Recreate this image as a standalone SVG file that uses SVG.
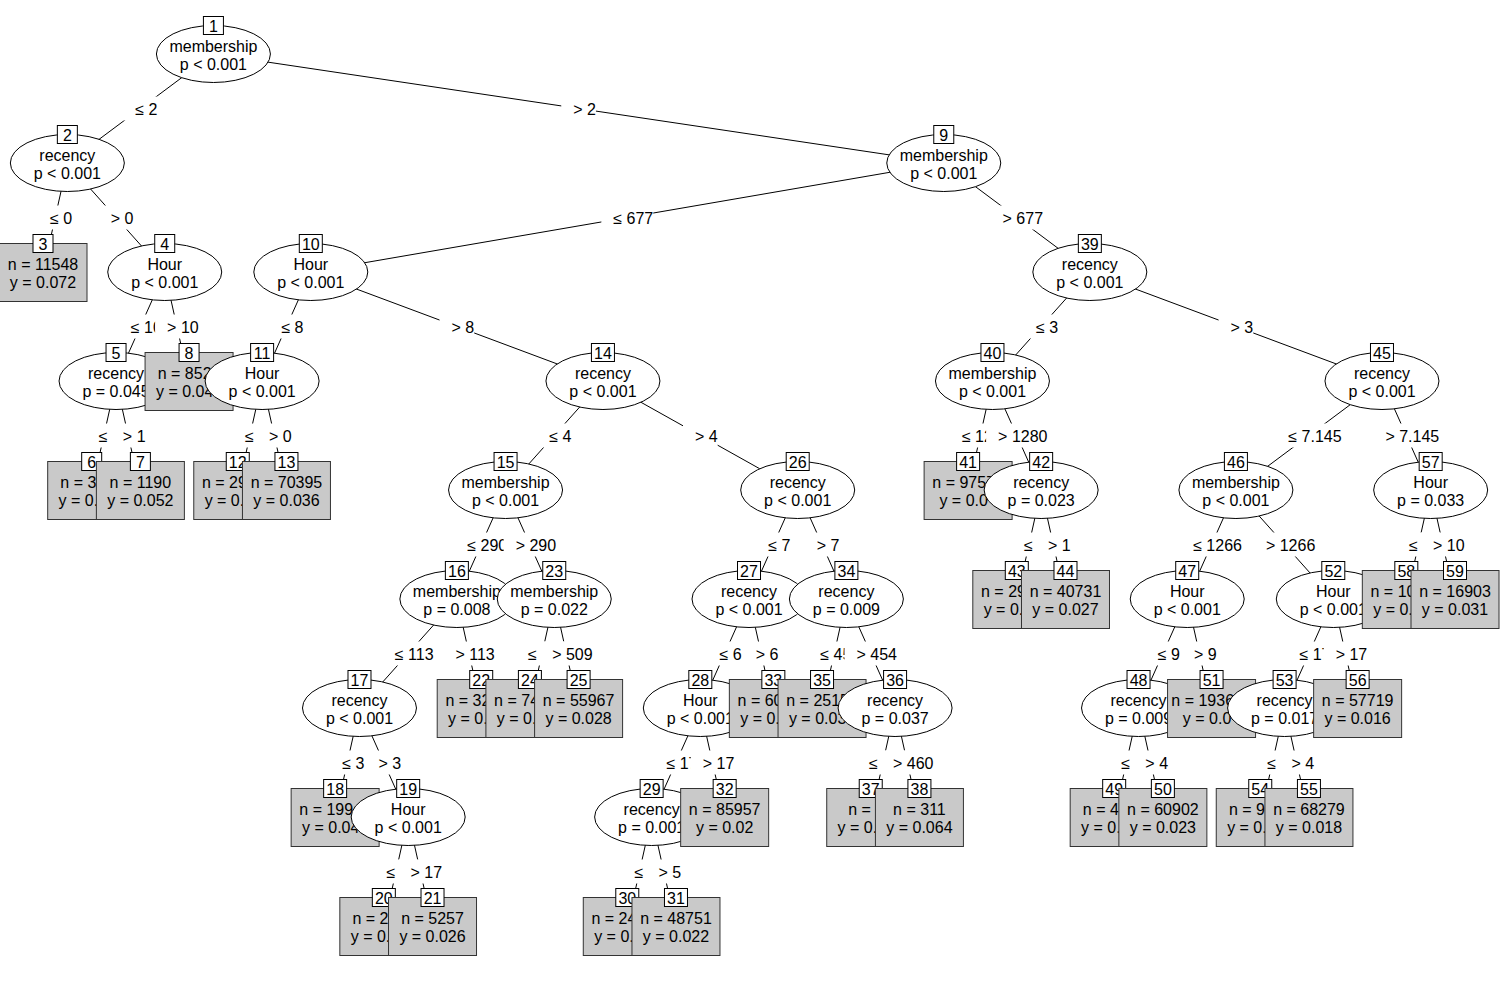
<svg xmlns="http://www.w3.org/2000/svg" width="1500" height="1000" viewBox="0 0 1500 1000">
<style>
text{font-family:"Liberation Sans",Arial,Helvetica,sans-serif;font-size:16px;fill:#000;text-anchor:middle}
.st{text-anchor:start}
.e{fill:#fff;stroke:#000;stroke-width:1}
.lf{fill:#c9c9c9;stroke:#333;stroke-width:1}
.id{fill:#fff;stroke:#000;stroke-width:1}
.ln line{stroke:#000;stroke-width:1}
.lb{fill:#fff;stroke:none}
</style>
<rect width="1500" height="1000" fill="#fff"/>
<g id="connectors">
<g class="ln">
<line x1="213.42" y1="54" x2="67.35" y2="163"/>
<line x1="213.42" y1="54" x2="943.77" y2="163"/>
<line x1="67.35" y1="163" x2="43" y2="272"/>
<line x1="67.35" y1="163" x2="164.73" y2="272"/>
<line x1="164.73" y1="272" x2="116.04" y2="381"/>
<line x1="164.73" y1="272" x2="189.07" y2="381"/>
<line x1="116.04" y1="381" x2="91.69" y2="490"/>
<line x1="116.04" y1="381" x2="140.38" y2="490"/>
<line x1="943.77" y1="163" x2="310.80" y2="272"/>
<line x1="943.77" y1="163" x2="1089.84" y2="272"/>
<line x1="310.80" y1="272" x2="262.11" y2="381"/>
<line x1="310.80" y1="272" x2="602.94" y2="381"/>
<line x1="262.11" y1="381" x2="237.76" y2="490"/>
<line x1="262.11" y1="381" x2="286.45" y2="490"/>
<line x1="602.94" y1="381" x2="505.56" y2="490"/>
<line x1="602.94" y1="381" x2="797.70" y2="490"/>
<line x1="505.56" y1="490" x2="456.87" y2="599"/>
<line x1="505.56" y1="490" x2="554.25" y2="599"/>
<line x1="456.87" y1="599" x2="359.49" y2="708"/>
<line x1="456.87" y1="599" x2="481.21" y2="708"/>
<line x1="359.49" y1="708" x2="335.14" y2="817"/>
<line x1="359.49" y1="708" x2="408.18" y2="817"/>
<line x1="408.18" y1="817" x2="383.83" y2="926"/>
<line x1="408.18" y1="817" x2="432.52" y2="926"/>
<line x1="554.25" y1="599" x2="529.90" y2="708"/>
<line x1="554.25" y1="599" x2="578.59" y2="708"/>
<line x1="797.70" y1="490" x2="749.01" y2="599"/>
<line x1="797.70" y1="490" x2="846.39" y2="599"/>
<line x1="749.01" y1="599" x2="700.32" y2="708"/>
<line x1="749.01" y1="599" x2="773.35" y2="708"/>
<line x1="700.32" y1="708" x2="651.63" y2="817"/>
<line x1="700.32" y1="708" x2="724.66" y2="817"/>
<line x1="651.63" y1="817" x2="627.28" y2="926"/>
<line x1="651.63" y1="817" x2="675.97" y2="926"/>
<line x1="846.39" y1="599" x2="822.04" y2="708"/>
<line x1="846.39" y1="599" x2="895.08" y2="708"/>
<line x1="895.08" y1="708" x2="870.73" y2="817"/>
<line x1="895.08" y1="708" x2="919.42" y2="817"/>
<line x1="1089.84" y1="272" x2="992.46" y2="381"/>
<line x1="1089.84" y1="272" x2="1381.98" y2="381"/>
<line x1="992.46" y1="381" x2="968.11" y2="490"/>
<line x1="992.46" y1="381" x2="1041.15" y2="490"/>
<line x1="1041.15" y1="490" x2="1016.80" y2="599"/>
<line x1="1041.15" y1="490" x2="1065.49" y2="599"/>
<line x1="1381.98" y1="381" x2="1235.91" y2="490"/>
<line x1="1381.98" y1="381" x2="1430.67" y2="490"/>
<line x1="1235.91" y1="490" x2="1187.22" y2="599"/>
<line x1="1235.91" y1="490" x2="1333.29" y2="599"/>
<line x1="1187.22" y1="599" x2="1138.53" y2="708"/>
<line x1="1187.22" y1="599" x2="1211.56" y2="708"/>
<line x1="1138.53" y1="708" x2="1114.18" y2="817"/>
<line x1="1138.53" y1="708" x2="1162.87" y2="817"/>
<line x1="1333.29" y1="599" x2="1284.60" y2="708"/>
<line x1="1333.29" y1="599" x2="1357.63" y2="708"/>
<line x1="1284.60" y1="708" x2="1260.25" y2="817"/>
<line x1="1284.60" y1="708" x2="1308.94" y2="817"/>
<line x1="1430.67" y1="490" x2="1406.32" y2="599"/>
<line x1="1430.67" y1="490" x2="1455.01" y2="599"/>
</g>
<g id="edge-labels">
<rect class="lb" x="123.33" y="96.5" width="34.1" height="24"/><text x="146.39" y="114.5">≤ 2</text>
<rect class="lb" x="561.25" y="96.5" width="34.7" height="24"/><text x="584.6" y="114.5">&gt; 2</text>
<rect class="lb" x="38.13" y="205.5" width="34.1" height="24"/><text x="61.18" y="223.5">≤ 0</text>
<rect class="lb" x="98.69" y="205.5" width="34.7" height="24"/><text x="122.04" y="223.5">&gt; 0</text>
<rect class="lb" x="118.89" y="314.5" width="43" height="24"/><text x="146.39" y="332.5">≤ 10</text>
<rect class="lb" x="155.1" y="314.5" width="43.6" height="24"/><text x="182.9" y="332.5">&gt; 10</text>
<rect class="lb" x="86.82" y="423.5" width="34.1" height="24"/><text x="109.87" y="441.5">≤ 1</text>
<rect class="lb" x="110.86" y="423.5" width="34.7" height="24"/><text x="134.21" y="441.5">&gt; 1</text>
<rect class="lb" x="601.34" y="205.5" width="51.9" height="24"/><text x="633.29" y="223.5">≤ 677</text>
<rect class="lb" x="990.56" y="205.5" width="52.5" height="24"/><text x="1022.81" y="223.5">&gt; 677</text>
<rect class="lb" x="269.41" y="314.5" width="34.1" height="24"/><text x="292.46" y="332.5">≤ 8</text>
<rect class="lb" x="439.52" y="314.5" width="34.7" height="24"/><text x="462.87" y="332.5">&gt; 8</text>
<rect class="lb" x="232.89" y="423.5" width="34.1" height="24"/><text x="255.94" y="441.5">≤ 0</text>
<rect class="lb" x="256.93" y="423.5" width="34.7" height="24"/><text x="280.28" y="441.5">&gt; 0</text>
<rect class="lb" x="537.2" y="423.5" width="34.1" height="24"/><text x="560.25" y="441.5">≤ 4</text>
<rect class="lb" x="682.97" y="423.5" width="34.7" height="24"/><text x="706.32" y="441.5">&gt; 4</text>
<rect class="lb" x="455.27" y="532.5" width="51.9" height="24"/><text x="487.22" y="550.5">≤ 290</text>
<rect class="lb" x="503.66" y="532.5" width="52.5" height="24"/><text x="535.91" y="550.5">&gt; 290</text>
<rect class="lb" x="382.23" y="641.5" width="51.9" height="24"/><text x="414.18" y="659.5">≤ 113</text>
<rect class="lb" x="442.79" y="641.5" width="52.5" height="24"/><text x="475.04" y="659.5">&gt; 113</text>
<rect class="lb" x="330.27" y="750.5" width="34.1" height="24"/><text x="353.32" y="768.5">≤ 3</text>
<rect class="lb" x="366.49" y="750.5" width="34.7" height="24"/><text x="389.84" y="768.5">&gt; 3</text>
<rect class="lb" x="374.51" y="859.5" width="43" height="24"/><text x="402.01" y="877.5">≤ 17</text>
<rect class="lb" x="398.55" y="859.5" width="43.6" height="24"/><text x="426.35" y="877.5">&gt; 17</text>
<rect class="lb" x="516.13" y="641.5" width="51.9" height="24"/><text x="548.08" y="659.5">≤ 509</text>
<rect class="lb" x="540.17" y="641.5" width="52.5" height="24"/><text x="572.42" y="659.5">&gt; 509</text>
<rect class="lb" x="756.31" y="532.5" width="34.1" height="24"/><text x="779.36" y="550.5">≤ 7</text>
<rect class="lb" x="804.7" y="532.5" width="34.7" height="24"/><text x="828.05" y="550.5">&gt; 7</text>
<rect class="lb" x="707.62" y="641.5" width="34.1" height="24"/><text x="730.67" y="659.5">≤ 6</text>
<rect class="lb" x="743.83" y="641.5" width="34.7" height="24"/><text x="767.18" y="659.5">&gt; 6</text>
<rect class="lb" x="654.48" y="750.5" width="43" height="24"/><text x="681.98" y="768.5">≤ 17</text>
<rect class="lb" x="690.69" y="750.5" width="43.6" height="24"/><text x="718.49" y="768.5">&gt; 17</text>
<rect class="lb" x="622.41" y="859.5" width="34.1" height="24"/><text x="645.46" y="877.5">≤ 5</text>
<rect class="lb" x="646.45" y="859.5" width="34.7" height="24"/><text x="669.8" y="877.5">&gt; 5</text>
<rect class="lb" x="808.27" y="641.5" width="51.9" height="24"/><text x="840.22" y="659.5">≤ 454</text>
<rect class="lb" x="844.49" y="641.5" width="52.5" height="24"/><text x="876.74" y="659.5">&gt; 454</text>
<rect class="lb" x="856.96" y="750.5" width="51.9" height="24"/><text x="888.91" y="768.5">≤ 460</text>
<rect class="lb" x="881" y="750.5" width="52.5" height="24"/><text x="913.25" y="768.5">&gt; 460</text>
<rect class="lb" x="1024.1" y="314.5" width="34.1" height="24"/><text x="1047.15" y="332.5">≤ 3</text>
<rect class="lb" x="1218.56" y="314.5" width="34.7" height="24"/><text x="1241.91" y="332.5">&gt; 3</text>
<rect class="lb" x="949.89" y="423.5" width="60.8" height="24"/><text x="986.29" y="441.5">≤ 1280</text>
<rect class="lb" x="986.11" y="423.5" width="61.4" height="24"/><text x="1022.81" y="441.5">&gt; 1280</text>
<rect class="lb" x="1011.93" y="532.5" width="34.1" height="24"/><text x="1034.98" y="550.5">≤ 1</text>
<rect class="lb" x="1035.97" y="532.5" width="34.7" height="24"/><text x="1059.32" y="550.5">&gt; 1</text>
<rect class="lb" x="1276.35" y="423.5" width="65.2" height="24"/><text x="1314.95" y="441.5">≤ 7.145</text>
<rect class="lb" x="1373.43" y="423.5" width="65.8" height="24"/><text x="1412.33" y="441.5">&gt; 7.145</text>
<rect class="lb" x="1181.17" y="532.5" width="60.8" height="24"/><text x="1217.57" y="550.5">≤ 1266</text>
<rect class="lb" x="1253.9" y="532.5" width="61.4" height="24"/><text x="1290.6" y="550.5">&gt; 1266</text>
<rect class="lb" x="1145.83" y="641.5" width="34.1" height="24"/><text x="1168.88" y="659.5">≤ 9</text>
<rect class="lb" x="1182.04" y="641.5" width="34.7" height="24"/><text x="1205.39" y="659.5">&gt; 9</text>
<rect class="lb" x="1109.31" y="750.5" width="34.1" height="24"/><text x="1132.36" y="768.5">≤ 4</text>
<rect class="lb" x="1133.35" y="750.5" width="34.7" height="24"/><text x="1156.7" y="768.5">&gt; 4</text>
<rect class="lb" x="1287.45" y="641.5" width="43" height="24"/><text x="1314.95" y="659.5">≤ 17</text>
<rect class="lb" x="1323.66" y="641.5" width="43.6" height="24"/><text x="1351.46" y="659.5">&gt; 17</text>
<rect class="lb" x="1255.38" y="750.5" width="34.1" height="24"/><text x="1278.43" y="768.5">≤ 4</text>
<rect class="lb" x="1279.42" y="750.5" width="34.7" height="24"/><text x="1302.77" y="768.5">&gt; 4</text>
<rect class="lb" x="1397" y="532.5" width="43" height="24"/><text x="1424.5" y="550.5">≤ 10</text>
<rect class="lb" x="1421.04" y="532.5" width="43.6" height="24"/><text x="1448.84" y="550.5">&gt; 10</text>
</g>
</g>
<g id="nodes">
<g id="node1" transform="translate(213.42,54)"><ellipse class="e" rx="57" ry="28.5"/><text y="-2.5">membership</text><text y="16">p &lt; 0.001</text><rect class="id" x="-10" y="-37.5" width="20" height="18"/><text y="-22.5">1</text></g>
<g id="node2" transform="translate(67.35,163)"><ellipse class="e" rx="57" ry="28.5"/><text y="-2.5">recency</text><text y="16">p &lt; 0.001</text><rect class="id" x="-10" y="-37.5" width="20" height="18"/><text y="-22.5">2</text></g>
<g id="node3" transform="translate(43,272)"><rect class="lf" x="-44" y="-28.5" width="88" height="58"/><text y="-2.5">n = 11548</text><text y="16">y = 0.072</text><rect class="id" x="-10" y="-37.5" width="20" height="18"/><text y="-22.5">3</text></g>
<g id="node4" transform="translate(164.73,272)"><ellipse class="e" rx="57" ry="28.5"/><text y="-2.5">Hour</text><text y="16">p &lt; 0.001</text><rect class="id" x="-10" y="-37.5" width="20" height="18"/><text y="-22.5">4</text></g>
<g id="node5" transform="translate(116.04,381)"><ellipse class="e" rx="57" ry="28.5"/><text y="-2.5">recency</text><text y="16">p = 0.045</text><rect class="id" x="-10" y="-37.5" width="20" height="18"/><text y="-22.5">5</text></g>
<g id="node6" transform="translate(91.69,490)"><rect class="lf" x="-44" y="-28.5" width="88" height="58"/><text class="st" x="-31.36" y="-2.5">n = 3</text><text class="st" x="-33.14" y="16">y = 0.</text><rect class="id" x="-10" y="-37.5" width="20" height="18"/><text y="-22.5">6</text></g>
<g id="node7" transform="translate(140.38,490)"><rect class="lf" x="-44" y="-28.5" width="88" height="58"/><text y="-2.5">n = 1190</text><text y="16">y = 0.052</text><rect class="id" x="-10" y="-37.5" width="20" height="18"/><text y="-22.5">7</text></g>
<g id="node8" transform="translate(189.07,381)"><rect class="lf" x="-44" y="-28.5" width="88" height="58"/><text class="st" x="-31.36" y="-2.5">n = 852</text><text class="st" x="-33.14" y="16">y = 0.04</text><rect class="id" x="-10" y="-37.5" width="20" height="18"/><text y="-22.5">8</text></g>
<g id="node9" transform="translate(943.77,163)"><ellipse class="e" rx="57" ry="28.5"/><text y="-2.5">membership</text><text y="16">p &lt; 0.001</text><rect class="id" x="-10" y="-37.5" width="20" height="18"/><text y="-22.5">9</text></g>
<g id="node10" transform="translate(310.80,272)"><ellipse class="e" rx="57" ry="28.5"/><text y="-2.5">Hour</text><text y="16">p &lt; 0.001</text><rect class="id" x="-11.5" y="-37.5" width="23" height="18"/><text y="-22.5">10</text></g>
<g id="node11" transform="translate(262.11,381)"><ellipse class="e" rx="57" ry="28.5"/><text y="-2.5">Hour</text><text y="16">p &lt; 0.001</text><rect class="id" x="-11.5" y="-37.5" width="23" height="18"/><text y="-22.5">11</text></g>
<g id="node12" transform="translate(237.76,490)"><rect class="lf" x="-44" y="-28.5" width="88" height="58"/><text class="st" x="-35.81" y="-2.5">n = 29</text><text class="st" x="-33.14" y="16">y = 0.</text><rect class="id" x="-11.5" y="-37.5" width="23" height="18"/><text y="-22.5">12</text></g>
<g id="node13" transform="translate(286.45,490)"><rect class="lf" x="-44" y="-28.5" width="88" height="58"/><text y="-2.5">n = 70395</text><text y="16">y = 0.036</text><rect class="id" x="-11.5" y="-37.5" width="23" height="18"/><text y="-22.5">13</text></g>
<g id="node14" transform="translate(602.94,381)"><ellipse class="e" rx="57" ry="28.5"/><text y="-2.5">recency</text><text y="16">p &lt; 0.001</text><rect class="id" x="-11.5" y="-37.5" width="23" height="18"/><text y="-22.5">14</text></g>
<g id="node15" transform="translate(505.56,490)"><ellipse class="e" rx="57" ry="28.5"/><text y="-2.5">membership</text><text y="16">p &lt; 0.001</text><rect class="id" x="-11.5" y="-37.5" width="23" height="18"/><text y="-22.5">15</text></g>
<g id="node16" transform="translate(456.87,599)"><ellipse class="e" rx="57" ry="28.5"/><text y="-2.5">membership</text><text y="16">p = 0.008</text><rect class="id" x="-11.5" y="-37.5" width="23" height="18"/><text y="-22.5">16</text></g>
<g id="node17" transform="translate(359.49,708)"><ellipse class="e" rx="57" ry="28.5"/><text y="-2.5">recency</text><text y="16">p &lt; 0.001</text><rect class="id" x="-11.5" y="-37.5" width="23" height="18"/><text y="-22.5">17</text></g>
<g id="node18" transform="translate(335.14,817)"><rect class="lf" x="-44" y="-28.5" width="88" height="58"/><text class="st" x="-35.81" y="-2.5">n = 199</text><text class="st" x="-33.14" y="16">y = 0.04</text><rect class="id" x="-11.5" y="-37.5" width="23" height="18"/><text y="-22.5">18</text></g>
<g id="node19" transform="translate(408.18,817)"><ellipse class="e" rx="57" ry="28.5"/><text y="-2.5">Hour</text><text y="16">p &lt; 0.001</text><rect class="id" x="-11.5" y="-37.5" width="23" height="18"/><text y="-22.5">19</text></g>
<g id="node20" transform="translate(383.83,926)"><rect class="lf" x="-44" y="-28.5" width="88" height="58"/><text class="st" x="-31.36" y="-2.5">n = 2</text><text class="st" x="-33.14" y="16">y = 0.</text><rect class="id" x="-11.5" y="-37.5" width="23" height="18"/><text y="-22.5">20</text></g>
<g id="node21" transform="translate(432.52,926)"><rect class="lf" x="-44" y="-28.5" width="88" height="58"/><text y="-2.5">n = 5257</text><text y="16">y = 0.026</text><rect class="id" x="-11.5" y="-37.5" width="23" height="18"/><text y="-22.5">21</text></g>
<g id="node22" transform="translate(481.21,708)"><rect class="lf" x="-44" y="-28.5" width="88" height="58"/><text class="st" x="-35.81" y="-2.5">n = 32</text><text class="st" x="-33.14" y="16">y = 0.</text><rect class="id" x="-11.5" y="-37.5" width="23" height="18"/><text y="-22.5">22</text></g>
<g id="node23" transform="translate(554.25,599)"><ellipse class="e" rx="57" ry="28.5"/><text y="-2.5">membership</text><text y="16">p = 0.022</text><rect class="id" x="-11.5" y="-37.5" width="23" height="18"/><text y="-22.5">23</text></g>
<g id="node24" transform="translate(529.90,708)"><rect class="lf" x="-44" y="-28.5" width="88" height="58"/><text class="st" x="-35.81" y="-2.5">n = 74</text><text class="st" x="-33.14" y="16">y = 0.</text><rect class="id" x="-11.5" y="-37.5" width="23" height="18"/><text y="-22.5">24</text></g>
<g id="node25" transform="translate(578.59,708)"><rect class="lf" x="-44" y="-28.5" width="88" height="58"/><text y="-2.5">n = 55967</text><text y="16">y = 0.028</text><rect class="id" x="-11.5" y="-37.5" width="23" height="18"/><text y="-22.5">25</text></g>
<g id="node26" transform="translate(797.70,490)"><ellipse class="e" rx="57" ry="28.5"/><text y="-2.5">recency</text><text y="16">p &lt; 0.001</text><rect class="id" x="-11.5" y="-37.5" width="23" height="18"/><text y="-22.5">26</text></g>
<g id="node27" transform="translate(749.01,599)"><ellipse class="e" rx="57" ry="28.5"/><text y="-2.5">recency</text><text y="16">p &lt; 0.001</text><rect class="id" x="-11.5" y="-37.5" width="23" height="18"/><text y="-22.5">27</text></g>
<g id="node28" transform="translate(700.32,708)"><ellipse class="e" rx="57" ry="28.5"/><text y="-2.5">Hour</text><text y="16">p &lt; 0.001</text><rect class="id" x="-11.5" y="-37.5" width="23" height="18"/><text y="-22.5">28</text></g>
<g id="node29" transform="translate(651.63,817)"><ellipse class="e" rx="57" ry="28.5"/><text y="-2.5">recency</text><text y="16">p = 0.001</text><rect class="id" x="-11.5" y="-37.5" width="23" height="18"/><text y="-22.5">29</text></g>
<g id="node30" transform="translate(627.28,926)"><rect class="lf" x="-44" y="-28.5" width="88" height="58"/><text class="st" x="-35.81" y="-2.5">n = 24</text><text class="st" x="-33.14" y="16">y = 0.</text><rect class="id" x="-11.5" y="-37.5" width="23" height="18"/><text y="-22.5">30</text></g>
<g id="node31" transform="translate(675.97,926)"><rect class="lf" x="-44" y="-28.5" width="88" height="58"/><text y="-2.5">n = 48751</text><text y="16">y = 0.022</text><rect class="id" x="-11.5" y="-37.5" width="23" height="18"/><text y="-22.5">31</text></g>
<g id="node32" transform="translate(724.66,817)"><rect class="lf" x="-44" y="-28.5" width="88" height="58"/><text y="-2.5">n = 85957</text><text y="16">y = 0.02</text><rect class="id" x="-11.5" y="-37.5" width="23" height="18"/><text y="-22.5">32</text></g>
<g id="node33" transform="translate(773.35,708)"><rect class="lf" x="-44" y="-28.5" width="88" height="58"/><text class="st" x="-35.81" y="-2.5">n = 60</text><text class="st" x="-33.14" y="16">y = 0.</text><rect class="id" x="-11.5" y="-37.5" width="23" height="18"/><text y="-22.5">33</text></g>
<g id="node34" transform="translate(846.39,599)"><ellipse class="e" rx="57" ry="28.5"/><text y="-2.5">recency</text><text y="16">p = 0.009</text><rect class="id" x="-11.5" y="-37.5" width="23" height="18"/><text y="-22.5">34</text></g>
<g id="node35" transform="translate(822.04,708)"><rect class="lf" x="-44" y="-28.5" width="88" height="58"/><text class="st" x="-35.81" y="-2.5">n = 2515</text><text class="st" x="-33.14" y="16">y = 0.03</text><rect class="id" x="-11.5" y="-37.5" width="23" height="18"/><text y="-22.5">35</text></g>
<g id="node36" transform="translate(895.08,708)"><ellipse class="e" rx="57" ry="28.5"/><text y="-2.5">recency</text><text y="16">p = 0.037</text><rect class="id" x="-11.5" y="-37.5" width="23" height="18"/><text y="-22.5">36</text></g>
<g id="node37" transform="translate(870.73,817)"><rect class="lf" x="-44" y="-28.5" width="88" height="58"/><text class="st" x="-22.46" y="-2.5">n =</text><text class="st" x="-33.14" y="16">y = 0.</text><rect class="id" x="-11.5" y="-37.5" width="23" height="18"/><text y="-22.5">37</text></g>
<g id="node38" transform="translate(919.42,817)"><rect class="lf" x="-44" y="-28.5" width="88" height="58"/><text y="-2.5">n = 311</text><text y="16">y = 0.064</text><rect class="id" x="-11.5" y="-37.5" width="23" height="18"/><text y="-22.5">38</text></g>
<g id="node39" transform="translate(1089.84,272)"><ellipse class="e" rx="57" ry="28.5"/><text y="-2.5">recency</text><text y="16">p &lt; 0.001</text><rect class="id" x="-11.5" y="-37.5" width="23" height="18"/><text y="-22.5">39</text></g>
<g id="node40" transform="translate(992.46,381)"><ellipse class="e" rx="57" ry="28.5"/><text y="-2.5">membership</text><text y="16">p &lt; 0.001</text><rect class="id" x="-11.5" y="-37.5" width="23" height="18"/><text y="-22.5">40</text></g>
<g id="node41" transform="translate(968.11,490)"><rect class="lf" x="-44" y="-28.5" width="88" height="58"/><text class="st" x="-35.81" y="-2.5">n = 9757</text><text class="st" x="-28.69" y="16">y = 0.0</text><rect class="id" x="-11.5" y="-37.5" width="23" height="18"/><text y="-22.5">41</text></g>
<g id="node42" transform="translate(1041.15,490)"><ellipse class="e" rx="57" ry="28.5"/><text y="-2.5">recency</text><text y="16">p = 0.023</text><rect class="id" x="-11.5" y="-37.5" width="23" height="18"/><text y="-22.5">42</text></g>
<g id="node43" transform="translate(1016.80,599)"><rect class="lf" x="-44" y="-28.5" width="88" height="58"/><text class="st" x="-35.81" y="-2.5">n = 29</text><text class="st" x="-33.14" y="16">y = 0.</text><rect class="id" x="-11.5" y="-37.5" width="23" height="18"/><text y="-22.5">43</text></g>
<g id="node44" transform="translate(1065.49,599)"><rect class="lf" x="-44" y="-28.5" width="88" height="58"/><text y="-2.5">n = 40731</text><text y="16">y = 0.027</text><rect class="id" x="-11.5" y="-37.5" width="23" height="18"/><text y="-22.5">44</text></g>
<g id="node45" transform="translate(1381.98,381)"><ellipse class="e" rx="57" ry="28.5"/><text y="-2.5">recency</text><text y="16">p &lt; 0.001</text><rect class="id" x="-11.5" y="-37.5" width="23" height="18"/><text y="-22.5">45</text></g>
<g id="node46" transform="translate(1235.91,490)"><ellipse class="e" rx="57" ry="28.5"/><text y="-2.5">membership</text><text y="16">p &lt; 0.001</text><rect class="id" x="-11.5" y="-37.5" width="23" height="18"/><text y="-22.5">46</text></g>
<g id="node47" transform="translate(1187.22,599)"><ellipse class="e" rx="57" ry="28.5"/><text y="-2.5">Hour</text><text y="16">p &lt; 0.001</text><rect class="id" x="-11.5" y="-37.5" width="23" height="18"/><text y="-22.5">47</text></g>
<g id="node48" transform="translate(1138.53,708)"><ellipse class="e" rx="57" ry="28.5"/><text y="-2.5">recency</text><text y="16">p = 0.009</text><rect class="id" x="-11.5" y="-37.5" width="23" height="18"/><text y="-22.5">48</text></g>
<g id="node49" transform="translate(1114.18,817)"><rect class="lf" x="-44" y="-28.5" width="88" height="58"/><text class="st" x="-31.36" y="-2.5">n = 4</text><text class="st" x="-33.14" y="16">y = 0.</text><rect class="id" x="-11.5" y="-37.5" width="23" height="18"/><text y="-22.5">49</text></g>
<g id="node50" transform="translate(1162.87,817)"><rect class="lf" x="-44" y="-28.5" width="88" height="58"/><text y="-2.5">n = 60902</text><text y="16">y = 0.023</text><rect class="id" x="-11.5" y="-37.5" width="23" height="18"/><text y="-22.5">50</text></g>
<g id="node51" transform="translate(1211.56,708)"><rect class="lf" x="-44" y="-28.5" width="88" height="58"/><text class="st" x="-40.26" y="-2.5">n = 1936</text><text class="st" x="-28.69" y="16">y = 0.0</text><rect class="id" x="-11.5" y="-37.5" width="23" height="18"/><text y="-22.5">51</text></g>
<g id="node52" transform="translate(1333.29,599)"><ellipse class="e" rx="57" ry="28.5"/><text y="-2.5">Hour</text><text y="16">p &lt; 0.001</text><rect class="id" x="-11.5" y="-37.5" width="23" height="18"/><text y="-22.5">52</text></g>
<g id="node53" transform="translate(1284.60,708)"><ellipse class="e" rx="57" ry="28.5"/><text y="-2.5">recency</text><text y="16">p = 0.017</text><rect class="id" x="-11.5" y="-37.5" width="23" height="18"/><text y="-22.5">53</text></g>
<g id="node54" transform="translate(1260.25,817)"><rect class="lf" x="-44" y="-28.5" width="88" height="58"/><text class="st" x="-31.36" y="-2.5">n = 9</text><text class="st" x="-33.14" y="16">y = 0.</text><rect class="id" x="-11.5" y="-37.5" width="23" height="18"/><text y="-22.5">54</text></g>
<g id="node55" transform="translate(1308.94,817)"><rect class="lf" x="-44" y="-28.5" width="88" height="58"/><text y="-2.5">n = 68279</text><text y="16">y = 0.018</text><rect class="id" x="-11.5" y="-37.5" width="23" height="18"/><text y="-22.5">55</text></g>
<g id="node56" transform="translate(1357.63,708)"><rect class="lf" x="-44" y="-28.5" width="88" height="58"/><text y="-2.5">n = 57719</text><text y="16">y = 0.016</text><rect class="id" x="-11.5" y="-37.5" width="23" height="18"/><text y="-22.5">56</text></g>
<g id="node57" transform="translate(1430.67,490)"><ellipse class="e" rx="57" ry="28.5"/><text y="-2.5">Hour</text><text y="16">p = 0.033</text><rect class="id" x="-11.5" y="-37.5" width="23" height="18"/><text y="-22.5">57</text></g>
<g id="node58" transform="translate(1406.32,599)"><rect class="lf" x="-44" y="-28.5" width="88" height="58"/><text class="st" x="-35.81" y="-2.5">n = 10</text><text class="st" x="-33.14" y="16">y = 0.</text><rect class="id" x="-11.5" y="-37.5" width="23" height="18"/><text y="-22.5">58</text></g>
<g id="node59" transform="translate(1455.01,599)"><rect class="lf" x="-44" y="-28.5" width="88" height="58"/><text y="-2.5">n = 16903</text><text y="16">y = 0.031</text><rect class="id" x="-11.5" y="-37.5" width="23" height="18"/><text y="-22.5">59</text></g>
</g>
</svg>
